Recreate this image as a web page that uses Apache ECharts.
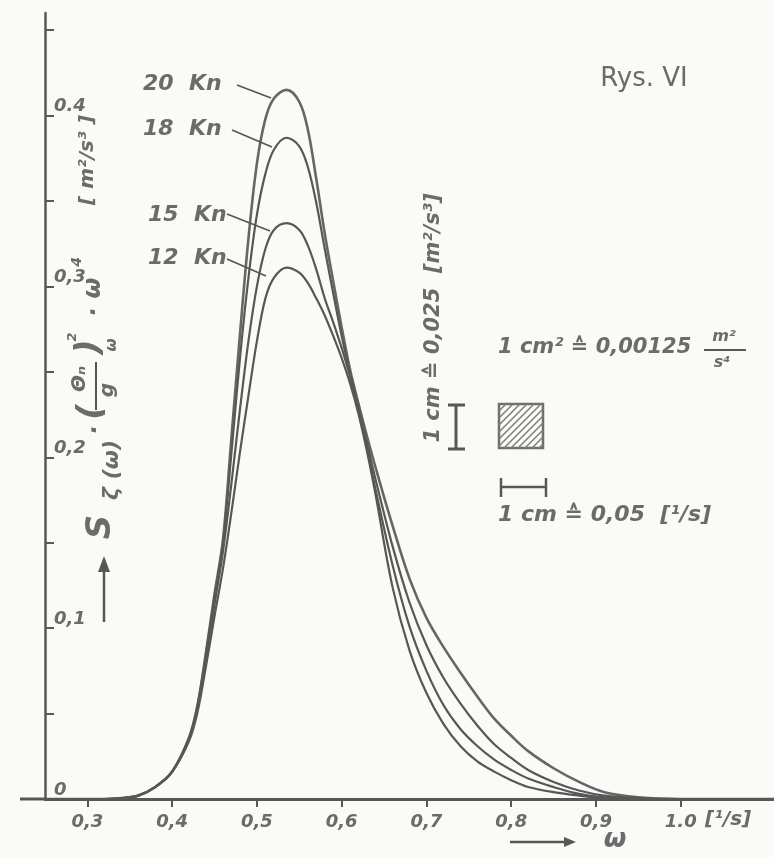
<!DOCTYPE html>
<html lang="pl">
<head>
<meta charset="UTF-8">
<title>Rys. VI</title>
<script src="https://cdn.jsdelivr.net/npm/echarts@6/dist/echarts.min.js"></script>
<style>
    * {
        margin: 0;
        padding: 0;
    }

    html, body {
        width: 100%;
        height: 100%;
        overflow: hidden;
        background: #fafaf7;
    }

    #chart {
        width: 774px;
        height: 857px;
    }
</style>
</head>
<body>
<div id="chart"></div>
<script>
    // omega [1/s] and S(w)*(Theta/g)^2*w^4 [m^2/s^3]
    const omega = [0.25, 0.32, 0.34, 0.36, 0.38, 0.40, 0.42, 0.43, 0.44, 0.45,
        0.46, 0.47, 0.48, 0.49, 0.50, 0.51, 0.52, 0.535, 0.55, 0.56,
        0.57, 0.58, 0.59, 0.60, 0.61, 0.62, 0.63, 0.64, 0.66, 0.68,
        0.70, 0.72, 0.74, 0.76, 0.78, 0.80, 0.82, 0.85, 0.88, 0.91,
        0.95, 1.00, 1.11];
    const s20 = [0, 0, 0.0005, 0.002, 0.007, 0.016, 0.036, 0.055, 0.086, 0.120,
        0.152, 0.212, 0.272, 0.328, 0.372, 0.398, 0.410, 0.415, 0.408, 0.392,
        0.363, 0.331, 0.303, 0.276, 0.251, 0.231, 0.212, 0.194, 0.160, 0.129,
        0.106, 0.089, 0.074, 0.060, 0.047, 0.037, 0.028, 0.018, 0.010, 0.004,
        0.001, 0, 0];
    const s18 = [0, 0, 0.0005, 0.002, 0.007, 0.016, 0.036, 0.055, 0.085, 0.118,
        0.150, 0.203, 0.258, 0.305, 0.342, 0.366, 0.380, 0.387, 0.382, 0.370,
        0.349, 0.322, 0.296, 0.271, 0.249, 0.229, 0.208, 0.187, 0.148, 0.115,
        0.090, 0.071, 0.056, 0.043, 0.032, 0.024, 0.017, 0.010, 0.005, 0.002,
        0.0005, 0, 0];
    const s15 = [0, 0, 0.0005, 0.002, 0.007, 0.016, 0.035, 0.053, 0.082, 0.114,
        0.145, 0.185, 0.228, 0.268, 0.300, 0.322, 0.333, 0.337, 0.333, 0.324,
        0.310, 0.293, 0.279, 0.264, 0.247, 0.227, 0.205, 0.181, 0.137, 0.101,
        0.075, 0.055, 0.041, 0.031, 0.023, 0.017, 0.012, 0.007, 0.003, 0.001,
        0, 0, 0];
    const s12 = [0, 0, 0.0005, 0.002, 0.007, 0.016, 0.034, 0.051, 0.078, 0.107,
        0.135, 0.168, 0.203, 0.236, 0.268, 0.293, 0.305, 0.311, 0.308, 0.302,
        0.293, 0.283, 0.271, 0.258, 0.243, 0.225, 0.203, 0.178, 0.124, 0.087,
        0.062, 0.044, 0.031, 0.022, 0.016, 0.011, 0.007, 0.004, 0.002, 0.0005,
        0, 0, 0];
    const seriesNames = ['20 Kn', '18 Kn', '15 Kn', '12 Kn'];
    const seriesValues = [s20, s18, s15, s12];

    const xTicks = [0.3, 0.4, 0.5, 0.6, 0.7, 0.8, 0.9, 1.0];
    const xTickLabels = ['0,3', '0,4', '0,5', '0,6', '0,7', '0,8', '0,9', '1.0'];
    const yTicks = [0.05, 0.1, 0.15, 0.2, 0.25, 0.3, 0.35, 0.4, 0.45];
    const yLabelValues = [0, 0.1, 0.2, 0.3, 0.4];
    const yLabelTexts = ['0', '0,1', '0,2', '0,3', '0.4'];

    const ink = '#575757';
    const textInk = '#6b6b6b';
    const font = 'DejaVu Sans';
    const up = Math.PI / 2;

    let chart = echarts.init(document.getElementById('chart'));

    function pickLabel(values, texts, v) {
        let i = values.findIndex(t => Math.abs(t - v) < 1e-6);
        return i < 0 ? '' : texts[i];
    }

    // text helper; rot = rotation in radians, al = align
    function label(x, y, text, size, rot, al) {
        return {
            type: 'text',
            x: x,
            y: y,
            z: 10,
            rotation: rot || 0,
            style: {
                text: text,
                fill: textInk,
                font: 'italic bold ' + size + 'px "' + font + '"',
                align: al || 'left',
                verticalAlign: 'middle'
            }
        };
    }

    function seg(x1, y1, x2, y2, w) {
        return {
            type: 'line',
            z: 10,
            shape: {x1: x1, y1: y1, x2: x2, y2: y2},
            style: {stroke: ink, lineWidth: w || 2}
        };
    }

    // hatched square (1 cm^2)
    function hatch(x0, y0, s, step) {
        let out = [{
            type: 'rect', z: 10,
            shape: {x: x0, y: y0, width: s, height: s},
            style: {fill: 'none', stroke: '#6f6f6f', lineWidth: 2.5}
        }];
        for (let d = step; d < 2 * s; d += step) {
            out.push({
                type: 'line', z: 10,
                shape: {
                    x1: x0 + Math.max(0, d - s), y1: y0 + Math.min(d, s),
                    x2: x0 + Math.min(d, s), y2: y0 + Math.max(0, d - s)
                },
                style: {stroke: '#808080', lineWidth: 1.6}
            });
        }
        return out;
    }

    let graphic = [
        seg(20, 799, 46, 799, 3),
        // curve labels with leaders
        label(143, 84, seriesNames[0].replace(' ', '  '), 22),
        seg(237, 85, 271, 98, 1.8),
        label(143, 129, seriesNames[1].replace(' ', '  '), 22),
        seg(232, 130, 272, 147, 1.8),
        label(148, 215, seriesNames[2].replace(' ', '  '), 22),
        seg(227, 214, 270, 231, 1.8),
        label(148, 258, seriesNames[3].replace(' ', '  '), 22),
        seg(227, 259, 266, 276, 1.8),
        {
            type: 'text', x: 644, y: 79, z: 10,
            style: {text: 'Rys. VI', fill: textInk, font: '26px "' + font + '"', align: 'center', verticalAlign: 'middle'}
        },
        // y axis title, written bottom to top
        seg(104, 622, 104, 570, 2.5),
        {type: 'polygon', z: 10, shape: {points: [[98, 572], [104, 556], [110, 572]]}, style: {fill: ink}},
        label(101, 527, 'S', 34, up, 'center'),
        label(112, 470, 'ζ (ω)', 22, up, 'center'),
        label(96, 430, '·', 24, up, 'center'),
        label(92, 412, '(', 34, up, 'center'),
        label(80, 379, 'Θₙ', 20, up, 'center'),
        seg(96, 362, 96, 410, 2),
        label(108, 390, 'g', 20, up, 'center'),
        label(90, 347, ')', 34, up, 'center'),
        label(73, 337, '2', 13, up, 'center'),
        label(112, 345, 'ω', 15, up, 'center'),
        label(95, 312, '·', 24, up, 'center'),
        label(94, 288, 'ω', 24, up, 'center'),
        label(77, 262, '4', 14, up, 'center'),
        label(88, 160, '[ m²/s³ ]', 20, up, 'center'),
        // scale notes
        label(434, 318, '1 cm ≙ 0,025  [m²/s³]', 21, up, 'center'),
        seg(456, 406, 456, 448, 3),
        seg(448, 405, 465, 405, 3),
        seg(448, 449, 465, 449, 3),
        label(498, 348, '1 cm² ≙ 0,00125', 21),
        label(724, 337, 'm²', 16, 0, 'center'),
        seg(704, 350, 746, 350, 2),
        label(722, 363, 's⁴', 16, 0, 'center'),
        seg(501, 487, 546, 487, 2.5),
        seg(501, 478, 501, 497, 2.5),
        seg(546, 478, 546, 497, 2.5),
        label(498, 515, '1 cm ≙ 0,05  [¹/s]', 22),
        // x axis unit and arrow
        label(705, 820, '[¹/s]', 20),
        seg(510, 842, 566, 842, 2.5),
        {type: 'polygon', z: 10, shape: {points: [[564, 837], [576, 842], [564, 847]]}, style: {fill: ink}},
        label(615, 840, 'ω', 26, 0, 'center')
    ].concat(hatch(499, 404, 44, 7));

    let series = seriesNames.map((name, k) => ({
        name: name,
        type: 'line',
        data: omega.map((w, i) => [w, seriesValues[k][i]]),
        smooth: 0.35,
        showSymbol: false,
        lineStyle: {color: k === 0 ? '#666' : ink, width: k === 0 ? 2.6 : 2.2},
        z: 3
    }));

    let option = {
        backgroundColor: '#fafaf7',
        animation: false,
        grid: {left: 45, right: 0, top: 13, bottom: 58},
        xAxis: {
            type: 'value',
            min: 0.25,
            max: 1.11,
            axisLine: {lineStyle: {color: ink, width: 3}},
            axisTick: {show: true, inside: false, length: 8, customValues: xTicks, lineStyle: {color: ink, width: 2}},
            axisLabel: {
                customValues: xTicks,
                margin: 14,
                color: textInk,
                fontFamily: font,
                fontStyle: 'italic',
                fontWeight: 'bold',
                fontSize: 18,
                formatter: v => pickLabel(xTicks, xTickLabels, v)
            },
            splitLine: {show: false}
        },
        yAxis: {
            type: 'value',
            min: 0,
            max: 0.46,
            axisLine: {show: true, lineStyle: {color: ink, width: 2.5}},
            axisTick: {show: true, inside: true, length: 9, customValues: yTicks, lineStyle: {color: ink, width: 2}},
            axisLabel: {
                inside: true,
                customValues: yLabelValues,
                margin: 9,
                verticalAlign: 'bottom',
                color: textInk,
                fontFamily: font,
                fontStyle: 'italic',
                fontWeight: 'bold',
                fontSize: 18,
                formatter: v => pickLabel(yLabelValues, yLabelTexts, v)
            },
            splitLine: {show: false}
        },
        series,
        graphic
    };
    chart.setOption(option);
</script>
</body>
</html>
